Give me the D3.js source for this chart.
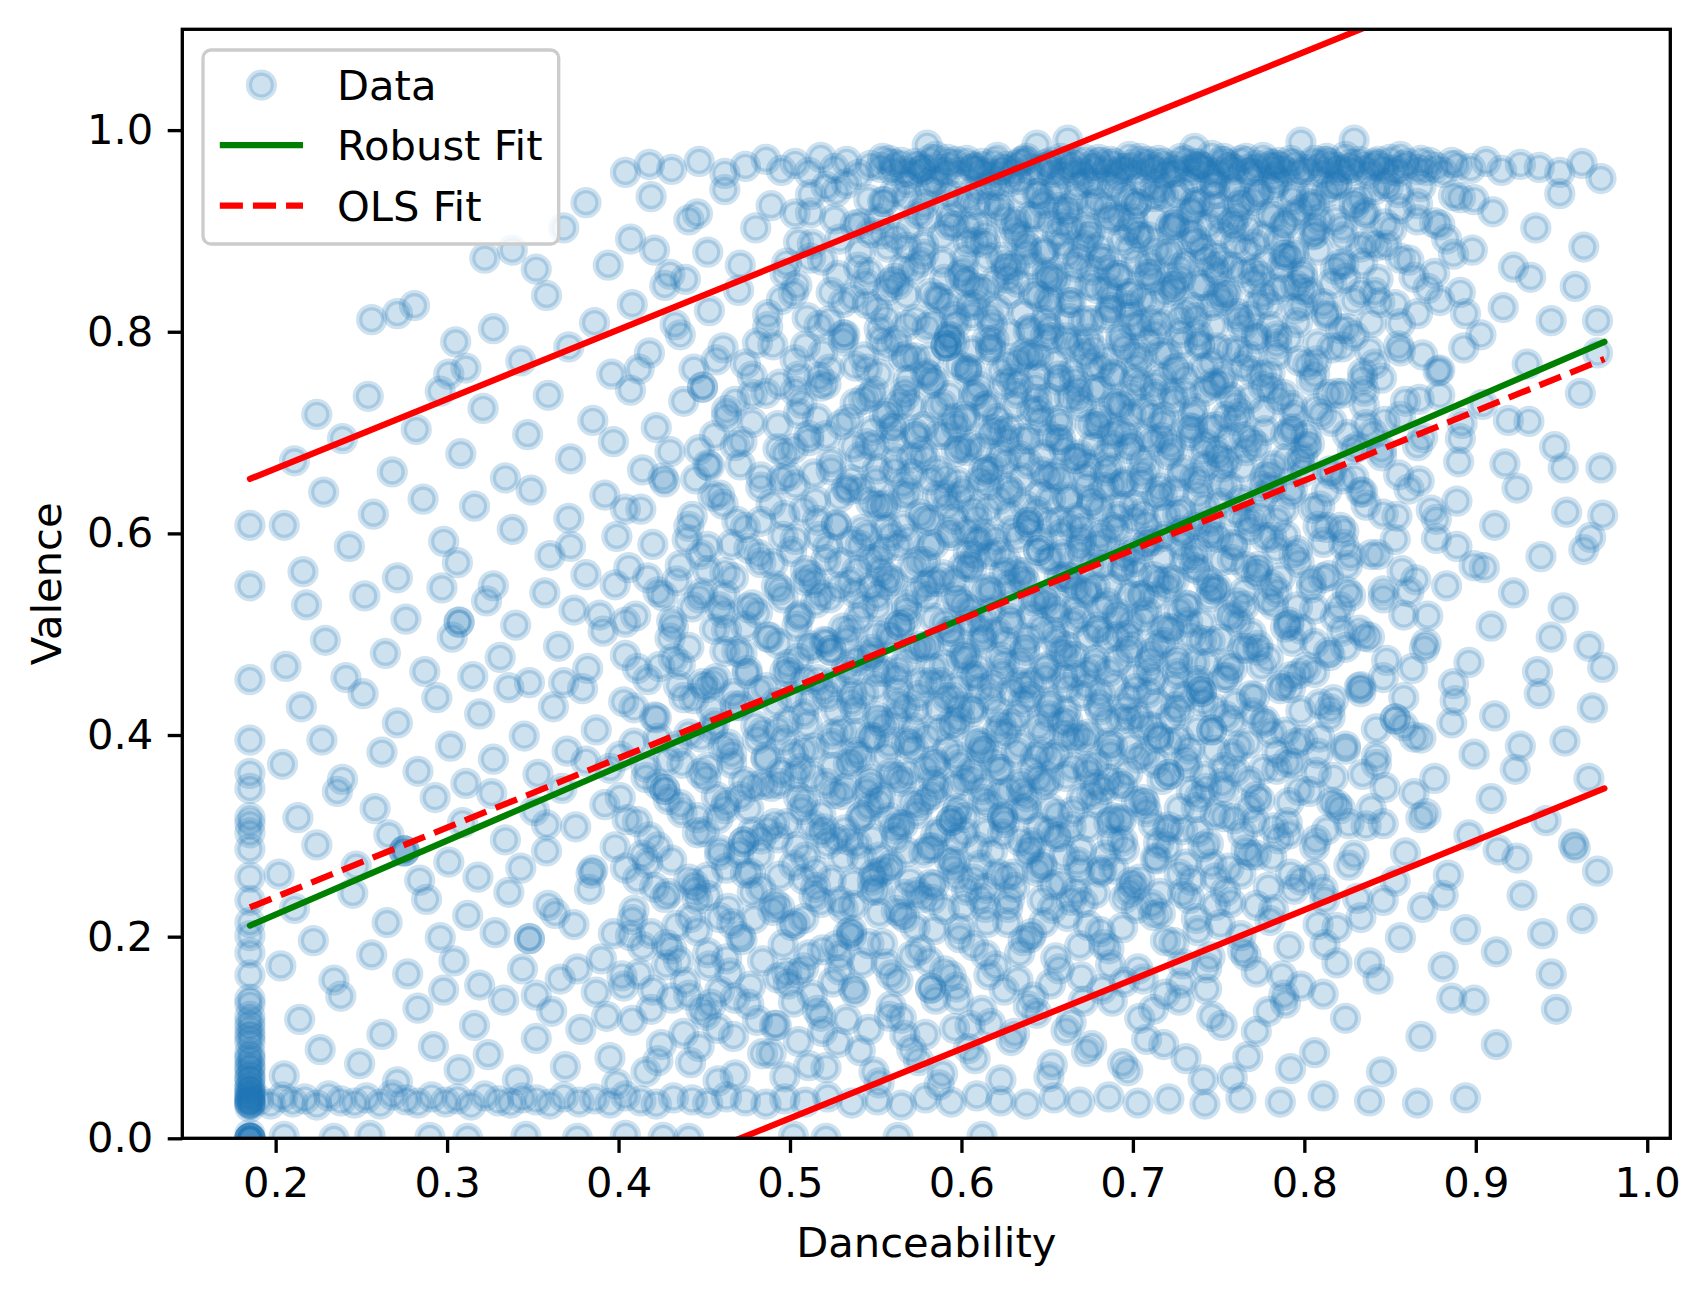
<!DOCTYPE html>
<html>
<head>
<meta charset="utf-8">
<script src="https://cdn.jsdelivr.net/npm/d3@7"></script>
<style>
  body { margin: 0; background: #fff; }
  text { font-family: "DejaVu Sans", sans-serif; }
</style>
</head>
<body>
<div id="chart"></div>
<script>
// Points, [danceability, valence] in thousandths.
// Grouped by region of the cloud.
var minDanceColumn = [
  [185,0],[185,0],[185,0],[185,0],[185,0],[185,0],[185,4],[185,31],[185,34],[185,35],[185,35],[185,36],[185,38],
  [185,40],[185,40],[185,42],[185,45],[185,46],[185,50],[185,50],[185,55],[185,60],[185,60],[185,66],[185,70],
  [185,72],[185,78],[185,80],[185,85],[185,95],[185,100],[185,104],[185,110],[185,115],[185,121],[185,133],
  [185,138],[185,162],[185,184],[185,201],[185,214],[185,236],[185,259],[185,287],[185,303],[185,312],[185,318],
  [185,347],[185,362],[185,395],[185,455],[185,548],[185,608]
];
var zeroValence = [
  [205,2],[234,0],[255,3],[290,1],[312,0],[346,2],[376,0],[404,3],[426,1],[441,0],[502,2],[521,0],[563,1],[612,2]
];
var lowBand = [
  [190,38],[197,34],[204,41],[210,36],[217,39],[224,33],[231,42],[238,37],[246,35],[253,40],[261,34],[268,43],
  [276,38],[283,35],[291,41],[299,36],[306,39],[314,33],[322,42],[330,37],[337,35],[344,40],[352,38],[360,34],
  [368,41],[377,36],[386,39],[395,35],[404,42],[413,37],[422,34],[432,40],[443,38],[452,35],[463,41],[474,37],
  [486,34],[497,39],[509,36],[522,41],[536,35],[551,38],[565,33],[579,40],[594,36],[609,42],[623,37],[638,34],
  [654,40],[669,36],[686,41],[703,35],[721,39],[742,34],[763,40],[786,36],[811,42],[838,37],[866,35],[894,40]
];
var bandA = [
  [205,62],[214,118],[226,88],[238,141],[249,74],[262,103],[271,56],[283,129],[292,91],[298,147],
  [307,68],[316,112],[324,83],[333,137],[341,58],[352,99],[361,126],[369,71],[378,108],[387,145],[395,80],[399,54],
  [408,117],[416,66],[425,93],[431,139],[442,75],[451,122],[458,57],[467,101],[476,133],[484,84],[492,112],[497,61],
  [505,96],[513,142],[521,70],[533,118],[541,87],[552,55],[559,131],[567,102],[575,77],[582,149],[582,149],[589,64],[596,109],
  [604,89],[612,127],[623,58],[631,104],[642,140],[653,73],[664,115],[676,92],[688,136],[697,67],
  [708,98],[719,143],[731,79],[746,121],[758,60],[772,106],[789,134],
  [806,85],[824,119],[845,66],[868,101],[886,139],[912,93],[947,128]
];
var bandB = [
  [203,171],[211,228],[222,196],[234,157],[245,243],[256,182],[265,214],[277,163],[288,237],[296,199],
  [304,176],[312,221],[319,152],[328,204],[336,244],[344,168],[348,198],[348,198],[359,231],[366,158],[374,212],[383,247],[390,178],[397,203],
  [402,161],[409,226],[414,190],[421,249],[428,172],[434,211],[439,155],[446,237],[452,184],[459,219],[465,164],[471,200],
  [478,244],[484,176],[490,226],[496,192],[499,153],
  [503,213],[508,169],[514,240],[519,187],[525,155],[531,228],[536,201],[542,174],[548,246],[554,193],[559,162],[565,222],
  [571,181],[577,239],[584,207],[590,166],[597,150],
  [601,230],[607,191],[614,248],[620,171],[627,214],[633,157],[640,199],[647,236],[655,179],[662,220],[670,160],[678,243],[686,188],[694,209],
  [703,168],[711,232],[719,196],[728,154],[737,218],[745,180],[754,245],[763,201],[772,165],[782,227],[791,190],[798,151],
  [808,212],[819,174],[831,238],[843,158],[856,199],[869,229],[881,170],[894,207],
  [912,185],[927,241],[944,163],[962,218]
];
var bandC = [
  [202,262],[213,318],[224,291],[236,344],[247,270],[258,327],[266,301],[275,285],[275,285],[275,285],[284,256],[293,338],
  [301,274],[309,313],[318,259],[326,342],[334,296],[343,268],[351,325],[358,285],[367,347],[375,309],[384,263],[392,331],[398,289],
  [405,316],[411,257],[418,299],[427,346],[427,346],[431,276],[437,323],[444,252],[450,304],[457,339],[463,268],[473,294],[473,294],
  [476,327],[482,281],[489,349],[494,260],[498,312],
  [504,289],[509,334],[515,265],[520,307],[526,342],[531,279],[537,253],[542,320],[548,297],[553,338],[559,271],[564,311],
  [570,255],[575,330],[581,288],[586,348],[594,315],[594,315],[595,268],
  [602,303],[607,257],[613,336],[618,284],[624,319],[630,262],[635,345],[641,293],[647,272],[652,327],[658,253],[664,309],
  [670,286],[676,341],[682,266],[688,318],[694,295],
  [701,250],[707,332],[714,277],[720,306],[727,262],[734,344],[741,289],[748,321],[756,268],[764,302],[772,339],[781,279],[790,313],[798,256],
  [807,296],[816,333],[826,271],[836,310],[847,348],[859,283],[871,322],[884,261],[896,301],
  [909,337],[924,278],[941,315],[958,288],[971,265]
];
var bandD = [
  [204,371],[215,428],[227,395],[239,356],[251,441],[262,383],[271,412],[283,364],[294,437],
  [302,389],[311,352],[319,421],[327,376],[336,447],[345,399],[353,361],[362,428],[370,384],[379,446],[387,405],[395,367],
  [403,433],[409,392],[416,358],[422,417],[429,375],[435,449],[441,401],[448,362],[454,426],[461,388],[467,441],[473,354],
  [480,409],[486,378],[492,432],[497,395],
  [503,359],[508,421],[514,387],[519,446],[525,368],[530,404],[536,433],[541,378],[547,351],[552,414],[558,391],[563,444],
  [569,362],[574,425],[580,398],[585,371],[591,437],[596,409],
  [602,355],[607,427],[612,384],[618,449],[623,366],[629,411],[634,390],[640,438],[645,357],[651,419],[656,381],[662,447],
  [668,400],[674,363],[680,430],[686,392],[692,352],[698,416],
  [703,377],[709,442],[715,398],[721,361],[727,424],[733,386],[740,443],[740,443],[746,405],[753,368],[760,431],[768,354],
  [776,412],[784,383],[792,447],[799,395],
  [807,363],[815,426],[824,389],[833,448],[842,371],[853,416],[853,416],[864,398],[876,357],[888,434],[899,381],
  [911,419],[923,366],[937,441],[952,394],[966,357],[974,467]
];
var bandE = [
  [206,468],[218,529],[229,494],[241,457],[252,538],[264,481],[276,515],[287,463],[297,546],
  [303,497],[307,512],[307,512],[315,458],[323,533],[331,477],[340,509],[348,452],[357,541],[365,488],[374,524],[382,466],
  [391,503],[398,549],
  [404,479],[410,518],[417,455],[423,542],[430,496],[436,470],[443,527],[449,451],[456,505],[462,539],[469,483],[475,461],
  [481,521],[488,497],[494,544],[499,470],
  [504,508],[509,455],[515,531],[520,493],[524,484],[524,484],[529,547],[535,462],[540,516],[546,479],[551,538],[557,501],
  [562,457],[568,524],[573,486],[579,548],[584,466],[590,511],[595,493],
  [601,529],[606,459],[612,503],[617,541],[623,477],[628,516],[634,452],[639,496],[645,535],[650,468],[656,519],[661,488],
  [667,545],[673,462],[679,507],[685,531],[691,474],[697,499],
  [702,458],[708,522],[714,489],[720,547],[726,471],[732,512],[738,454],[745,537],[751,495],[758,466],[765,528],[773,484],
  [781,549],[789,507],[797,461],
  [806,525],[815,479],[825,542],[835,498],[846,457],[858,519],[870,486],[883,548],[896,472],
  [909,508],[922,541],[936,463],[951,526],[966,488]
];
var bandF = [
  [205,608],[216,562],[228,641],[243,587],[257,619],[271,556],[286,634],[298,592],
  [306,571],[316,627],[327,548],[338,604],[349,643],[360,578],[371,615],[381,559],[392,638],[399,597],
  [406,566],[413,624],[420,589],[427,651],[434,553],[441,607],[448,579],[455,637],[462,561],[469,612],[476,585],[483,646],
  [490,570],[497,618],
  [503,594],[509,553],[515,632],[521,574],[527,609],[533,645],[539,563],[545,598],[551,627],[557,556],[563,588],[569,640],
  [575,572],[581,613],[587,552],[593,601],[599,636],
  [604,567],[610,594],[616,648],[622,581],[628,619],[634,556],[640,603],[646,639],[652,575],[658,612],[664,551],[670,594],
  [676,633],[682,568],[688,606],[694,649],
  [700,583],[706,620],[712,557],[718,597],[724,642],[730,575],[737,609],[744,553],[751,630],[758,589],[765,614],[773,563],
  [781,646],[789,598],[797,571],
  [805,625],[814,558],[823,602],[833,641],[843,579],[854,617],[865,554],[877,595],[889,632],[899,568],
  [911,608],[924,645],[938,577],[953,621],[967,596]
];
var bandG = [
  [211,672],[224,718],[239,694],[254,736],[268,661],[282,703],[296,741],
  [308,679],[321,724],[334,655],[347,698],[359,737],[372,674],[385,712],[397,691],
  [407,742],[414,663],[422,705],[430,681],[438,731],[445,654],[449,745],[449,745],[456,697],[463,722],[471,668],[478,710],
  [486,739],[493,684],[499,657],
  [505,719],[511,692],[518,746],[524,671],[530,708],[536,653],[543,733],[549,687],[555,716],[561,662],[567,741],[573,699],
  [579,674],[585,725],[591,655],[597,706],
  [603,682],[609,738],[615,661],[621,714],[627,692],[633,749],[639,669],[645,721],[651,697],[657,654],[663,735],[669,678],
  [675,708],[681,744],[687,665],[693,726],[699,688],
  [705,651],[711,717],[717,695],[723,739],[729,663],[735,704],[741,681],[748,747],[755,672],[762,719],[769,692],[777,656],
  [785,733],[793,701],[799,676],
  [807,724],[816,659],[825,698],[835,741],[845,683],[856,716],[867,652],[879,737],[891,694],
  [904,728],[917,669],[931,711],[946,686],[961,739],[973,665]
];
var bandH = [
  [256,812],[271,818],[281,826],[301,758],[305,790],[311,764],[327,803],[343,771],[358,836],[371,785],[386,809],[396,758],
  [408,827],[418,779],[427,846],[436,797],[444,763],[453,821],[461,784],[470,841],[478,756],[487,805],[495,832],
  [503,772],[510,814],[517,755],[524,839],[531,791],[538,766],[545,828],[552,803],[559,849],[566,775],[573,812],[580,757],
  [586,834],[591,786],[591,786],[591,786],[597,808],
  [603,761],[609,843],[615,792],[621,822],[627,768],[633,849],[639,801],[645,776],[651,832],[657,752],[663,813],[669,787],
  [675,846],[681,765],[687,821],[693,796],[699,838],
  [705,774],[711,811],[717,753],[723,845],[729,789],[735,824],[741,764],[747,806],[754,839],[761,781],[768,815],[775,757],
  [783,842],[791,794],[799,826],
  [807,771],[816,848],[825,803],[834,759],[844,829],[855,786],[866,818],[878,761],[891,839],
  [903,797],[916,824],[930,768],[944,811],[958,845],[971,779]
];
var bandI = [
  [322,873],[338,881],[352,862],[368,903],[381,928],[394,866],
  [407,892],[419,934],[430,857],[441,911],[452,879],[462,941],[471,866],[480,903],[489,925],[497,858],
  [505,889],[512,936],[519,871],[526,912],[533,947],[540,864],[547,898],[554,929],[561,853],[568,884],[575,917],[582,942],
  [589,869],[596,905],
  [602,851],[608,926],[614,888],[620,945],[626,866],[632,909],[638,878],[644,937],[650,859],[656,897],[662,922],[668,872],
  [674,948],[680,884],[686,913],[692,856],[698,931],
  [704,894],[710,867],[716,940],[722,905],[728,853],[734,921],[740,882],[746,946],[752,869],[758,908],[764,929],[770,861],
  [776,895],[782,943],[788,876],[794,916],[799,854],
  [806,902],[813,938],[821,867],[829,924],[838,889],[847,947],[856,873],[866,911],[876,858],[887,935],[898,881],
  [910,919],[922,864],[935,903],[949,937],[963,884],[973,952]
];
var topBand = [
  [404,958],[418,966],[431,961],[447,969],[462,957],[474,964],[486,971],[495,960],
  [503,967],[511,958],[518,973],[526,962],[533,969],[540,956],[547,965],[554,972],[560,960],[565,968],[571,957],[576,964],
  [582,971],[587,961],[593,966],[598,958],
  [603,970],[607,962],[612,967],[616,957],[621,973],[626,964],[630,959],[635,969],[640,961],[644,985],[649,966],[653,958],
  [658,972],[662,963],[667,968],[671,957],[676,965],[680,971],[685,960],[689,967],[694,962],[698,974],
  [702,958],[706,966],[711,961],[715,970],[719,957],[724,964],[728,972],[733,960],[737,967],[741,963],[746,975],[750,958],
  [755,966],[759,961],[763,970],[768,957],[772,965],[776,973],[781,962],[785,968],[789,959],[794,966],[798,988],
  [802,961],[806,970],[811,958],[815,967],[819,963],[824,974],[828,960],[832,969],[837,957],[841,965],[846,962],[850,971],
  [855,959],[860,967],
  [866,961],[873,968],[881,958],[889,965],[897,962],[906,969],[915,960],[926,966],[937,963],[949,958],[962,967],
  [580,985],[662,990],[736,982],[829,990]
];

// the dense core, filled in row by row (valence 0.10 .. 0.95)
var coreR9 = [
  [503,917],[521,944],[538,906],[546,931],
  [552,912],[561,939],[569,903],[578,926],[586,948],[594,915],
  [604,933],[609,907],[617,946],[622,921],[631,902],[636,938],[643,914],[648,927],
  [651,909],[655,942],[662,918],[667,931],[673,904],[678,947],[684,923],[689,911],[694,936],[698,901],
  [702,927],[707,945],[713,912],[718,934],[724,903],[729,941],[735,919],[739,929],[744,906],[748,937],
  [751,913],[757,944],[762,925],[767,902],[773,936],[779,917],[784,948],[789,908],[793,931],[798,921],
  [804,935],[809,911],[816,944],[822,903],[829,928],[835,916],[841,941],[847,907],
  [856,922],[868,944],[879,906],[891,933]
];
var coreR8 = [
  [504,846],[512,873],[523,811],[529,892],[537,834],[546,859],
  [551,822],[557,884],[563,847],[568,806],[576,869],[582,838],[589,895],[596,815],
  [601,861],[604,826],[609,889],[613,842],[618,807],[623,874],[627,853],[632,896],[636,818],[641,867],[645,835],[649,881],
  [651,803],[655,852],[659,887],[663,829],[667,864],[671,811],[675,898],[679,843],[683,872],[687,824],[691,856],[694,891],
  [697,838],[699,817],
  [702,869],[705,832],[709,894],[712,851],[716,808],[720,877],[724,841],[727,863],[731,819],[735,889],[739,846],[742,872],
  [746,826],[749,858],
  [751,897],[755,836],[758,864],[762,812],[766,881],[770,849],[773,827],[777,868],[781,805],[785,891],[788,845],[792,874],
  [795,823],[799,859],
  [803,839],[808,881],[813,816],[818,862],[823,894],[829,831],[834,868],[839,809],[843,852],[848,886],
  [853,827],[861,871],[872,843],[883,892],[894,818]
];
var coreR7 = [
  [457,772],[468,731],[481,789],[494,748],
  [503,741],[509,786],[516,714],[523,763],[531,797],[538,729],[543,775],[548,702],
  [552,758],[557,719],[562,791],[567,736],[573,774],[578,706],[584,752],[589,728],[593,795],[598,767],
  [602,713],[606,781],[610,746],[615,727],[619,792],[623,761],[628,704],[632,739],[637,778],[641,722],[645,757],[649,796],
  [651,734],[655,769],[658,708],[662,788],[666,751],[670,726],[674,793],[677,742],[681,716],[685,773],[688,758],[692,701],
  [695,784],[699,737],
  [702,765],[706,723],[709,791],[713,747],[717,709],[720,778],[724,731],[728,799],[731,754],[735,717],[739,786],[742,741],
  [746,769],[749,706],
  [752,749],[756,782],[760,712],[764,766],[768,734],[772,797],[776,721],[780,759],[784,788],[788,738],[793,704],[797,771],
  [804,752],[810,718],[816,784],[822,739],[829,796],[835,727],[841,768],[847,711],
  [856,781],[867,733],[879,762],[892,709]
];
var coreR6 = [
  [453,667],[461,629],[472,691],[483,612],[495,654],
  [502,684],[508,623],[514,659],[521,697],[527,608],[534,643],[541,676],[547,631],
  [551,664],[556,606],[561,692],[566,637],[571,675],[576,619],[582,653],[587,698],[592,627],[597,681],
  [601,642],[605,688],[609,615],[613,663],[617,699],[622,634],[626,671],[630,603],[635,655],[639,694],[644,622],[648,678],
  [651,611],[654,659],[658,693],[662,636],[666,674],[670,605],[673,647],[677,688],[681,624],[684,662],[688,699],[691,617],
  [695,651],[698,684],
  [701,628],[705,672],[708,609],[712,691],[716,645],[719,618],[723,683],[727,657],[730,601],[734,697],[738,639],[742,667],
  [745,612],[749,681],
  [752,648],[756,694],[760,621],[764,666],[768,604],[772,687],[776,637],[780,659],[784,613],[789,698],[793,644],[797,672],
  [803,689],[809,627],[815,662],[821,606],[828,683],[834,641],[840,699],[846,619],
  [855,658],[866,687],[877,614],[890,671]
];
var coreR5 = [
  [452,563],[459,527],[466,589],[474,508],[483,571],[496,536],
  [501,582],[506,519],[512,558],[517,597],[523,536],[529,571],[535,504],[541,588],[547,547],
  [551,527],[555,584],[560,553],[564,509],[569,594],[574,541],[579,572],[584,516],[589,559],[594,598],[598,533],
  [601,567],[605,513],[609,592],[613,544],[617,579],[621,502],[625,561],[629,531],[633,596],[637,552],[641,518],[645,583],
  [649,537],
  [651,574],[655,526],[658,599],[662,556],[665,511],[669,587],[673,541],[676,569],[680,503],[684,593],[687,548],[691,521],
  [695,578],[698,539],
  [702,561],[706,514],[709,592],[713,537],[717,576],[721,506],[724,553],[728,589],[732,528],[736,566],[740,511],[744,597],
  [748,544],
  [752,573],[756,519],[760,588],[765,542],[769,501],[773,567],[777,596],[782,529],[786,556],[791,512],[796,583],
  [804,546],[811,591],[818,517],[825,568],[832,504],[839,579],[846,536],
  [857,563],[872,518],[889,587]
];
var coreR4 = [
  [451,447],[456,412],[462,483],[468,429],[475,464],[484,403],[493,491],
  [501,438],[505,476],[510,411],[516,455],[521,492],[527,424],[533,467],[538,402],[543,441],[548,485],
  [551,418],[555,463],[559,496],[563,431],[568,473],[572,407],[577,452],[581,489],[586,426],[590,469],[594,412],[598,447],
  [602,481],[606,423],[609,458],[613,497],[617,436],[621,404],[625,471],[629,444],[633,419],[637,488],[641,452],[645,409],
  [649,466],
  [651,429],[655,493],[659,457],[662,414],[666,478],[670,439],[674,401],[678,468],[681,425],[685,496],[689,449],[693,416],
  [697,483],
  [702,446],[706,408],[710,474],[714,431],[718,492],[722,417],[726,461],[730,438],[734,499],[738,405],[743,471],[747,427],
  [753,457],[758,414],[764,486],[769,439],[775,468],[781,402],[787,449],[793,493],[798,424],
  [806,462],[815,418],[824,487],[833,443],[842,406],[848,474],
  [858,437],[871,491],[886,412]
];
var coreR3 = [
  [452,368],[458,317],[464,391],[471,339],[478,304],[486,376],[494,352],
  [502,381],[507,326],[513,359],[518,303],[524,392],[530,341],[536,374],[541,318],[547,356],[549,397],
  [552,333],[556,379],[561,307],[565,354],[570,394],[574,322],[579,367],[583,341],[588,305],[592,386],[596,349],[599,371],
  [602,318],[606,357],[611,392],[615,331],[619,374],[624,302],[628,345],[632,383],[636,326],[641,366],[645,308],[648,351],
  [652,377],[656,321],[661,359],[665,396],[670,337],[674,309],[679,371],[683,346],[688,389],[693,315],[697,362],
  [702,334],[707,381],[712,311],[717,356],[722,392],[727,327],[732,369],[738,304],[743,347],[748,385],
  [753,319],[760,364],[767,392],[774,336],[782,308],[790,373],[797,345],
  [808,382],[821,327],[834,361],[846,312]
];
var coreR2 = [
  [452,241],[459,286],[466,213],[474,263],[483,297],[494,229],
  [502,271],[508,218],[515,249],[522,292],[529,235],[536,206],[542,278],[548,256],
  [552,223],[557,267],[562,298],[567,242],[573,209],[578,283],[584,251],[590,227],[596,274],
  [603,246],[609,289],[615,214],[621,262],[628,237],[634,295],[641,203],[647,269],
  [653,228],[660,281],[667,245],[674,211],[681,264],[688,296],[695,238],
  [704,257],[712,221],[720,289],[729,243],[738,206],[746,272],
  [757,234],[768,281],[780,216],[792,262],
  [811,247],[833,219]
];
var coreR1 = [
  [454,133],[463,178],[477,151],[491,112],
  [505,164],[516,127],[527,191],[538,145],[546,108],
  [556,173],[565,119],[576,187],[585,138],[594,161],
  [605,112],[614,182],[625,147],[636,196],[644,124],
  [657,168],[671,136],[683,192],[695,155],
  [712,128],[729,173],[743,148],
  [766,181],[788,142]
];
var topBandCore = [
  [553,963],[558,970],[567,959],[573,967],[578,961],[585,974],[591,958],[597,969],[606,964],[611,959],[619,968],[624,961],
  [633,966],[638,972],[646,960],[652,968],[659,957],[664,966],[672,971],[678,962],[687,969],[692,958],[699,966],[704,972],
  [713,963],[718,967],[726,959],[731,970],[739,964],[744,958],[752,969],[757,963],[766,972],[771,960],[779,967],[786,963],
  [792,970],[799,961],[808,965],[813,972],[821,960],[827,966],[835,963],[843,969],[852,960],[858,965],[868,970],[877,963],
  [561,966],[576,959],[592,971],[608,963],[623,957],[637,970],[651,964],[666,958],[681,968],[696,962],[709,969],[723,958],
  [738,966],[753,972],[767,961],[782,966],[797,958],[812,969],[826,962],[841,967],[856,974],[871,960],[886,968]
];
var midLeft = [
  [352,142],[358,311],[363,223],[368,452],[372,587],[376,168],[381,374],[385,266],[389,519],[393,121],
  [401,338],[404,624],[407,201],[411,466],[414,281],[417,556],[420,147],[423,397],[426,655],[429,243],
  [432,507],[435,176],[437,372],[440,594],[442,219],[444,436],[446,318],[447,683],[448,128],[449,541],
  [412,763],[433,807],[421,881],[439,852],[446,917],
  [403,151],[417,273],[428,192],[436,331],[445,247],[458,109],[466,372],[479,218],[487,306],[498,164],
  [409,427],[423,351],[432,476],[448,398],[461,521],[470,283],[482,444],[491,233],[506,367],[518,121],
  [511,489],[527,297],[404,512],[419,203],[441,142],[455,452],[463,333],[476,526],[493,405],[508,257],
  [522,438],[529,181],[514,551],[401,379],[426,538],[452,259],[468,139],[484,351],[497,463],[513,311]
];
var rightEdge = [
  [861,542],[868,318],[874,623],[881,241],[887,451],[893,784],[899,137],[905,566],[913,286],[919,712],
  [926,389],[932,854],[939,203],[944,497],[951,665],[957,292],[963,584],[968,427],[971,811],[974,618]
];
// second pass over the dense middle, valence 0.05 .. 0.50
var fillLow = [
  [423,77],[447,91],[468,63],[489,84],[511,72],[528,95],[549,66],[571,88],[587,53],[608,79],[629,97],[651,61],[673,86],
  [694,74],[718,93],[741,58],[767,81],[792,69],
  [419,128],[438,104],[459,146],[481,117],[502,135],[519,106],[537,149],[558,121],[579,103],[598,138],[617,114],[639,131],
  [661,107],[682,148],[704,119],[727,137],[752,112],[779,126],[811,143],
  [412,163],[431,188],[453,171],[472,197],[493,159],[511,182],[529,167],[546,193],[563,156],[581,176],[599,199],[616,162],
  [634,184],[652,153],[669,191],[687,172],[706,158],[724,194],[743,169],[764,186],[787,161],[812,192],[838,174],
  [408,217],[427,239],[446,206],[464,228],[483,248],[501,211],[518,234],[534,203],[551,246],[567,219],[583,237],[599,208],
  [614,229],[631,249],[648,214],[664,236],[681,205],[698,244],[716,223],[733,238],[751,212],[772,231],[794,247],[819,209],[846,236],
  [404,268],[423,289],[441,257],[459,281],[477,263],[493,298],[509,279],[524,256],[539,292],[553,264],[568,284],[582,252],
  [597,296],[611,271],[626,259],[640,287],[655,299],[669,266],[684,281],[699,254],[715,293],[731,272],[748,258],[766,286],
  [785,297],[806,262],[829,281],[853,255],
  [411,314],[429,336],[446,303],[462,327],[478,349],[491,312],[505,338],[518,321],[532,306],[545,344],[558,318],[571,333],
  [585,301],[598,327],[612,346],[625,313],[638,339],[651,305],[665,324],[678,351],[692,317],[706,336],[721,309],[737,328],
  [753,345],[771,314],[791,333],[813,306],[839,327],[864,342],
  [416,368],[434,389],[451,357],[466,381],[481,396],[495,363],[508,385],[521,352],[534,371],[547,398],[559,362],[572,387],
  [584,354],[597,379],[609,394],[622,366],[635,352],[647,383],[660,399],[673,369],[686,356],[699,388],[713,372],[727,396],
  [742,359],[758,381],[776,366],[795,392],[817,358],[842,379],[868,397],
  [421,418],[438,437],[455,406],[471,429],[486,447],[499,413],[512,434],[525,401],[538,426],[550,448],[562,417],[575,439],
  [587,405],[599,428],[611,446],[623,411],[636,433],[648,402],[661,424],[673,449],[685,414],[698,437],[711,408],[725,428],
  [739,446],[754,419],[771,438],[789,403],[809,431],[832,447],[858,409],
  [424,468],[441,487],[457,456],[472,481],[487,497],[500,462],[513,486],[526,453],[539,474],[551,499],[563,465],[576,488],
  [588,452],[600,477],[612,495],[624,461],[637,484],[649,457],[661,479],[674,498],[686,463],[699,487],[712,455],[726,476],
  [740,494],[756,469],[773,489],[792,458],[814,482],[838,497],[863,466]
];
// second pass, valence 0.50 .. 0.95
var fillHigh = [
  [431,513],[447,536],[463,504],[478,529],[492,548],[505,517],[518,539],[531,506],[543,527],[556,549],[568,514],[580,537],
  [593,503],[605,524],[617,546],[629,511],[642,533],[654,502],[666,525],[678,547],[691,516],[704,538],[717,507],[731,529],
  [746,545],[762,512],[779,534],[798,505],[821,527],[846,543],
  [436,568],[452,587],[467,556],[482,579],[496,597],[509,563],[522,586],[535,552],[547,574],[559,598],[571,566],[584,589],
  [596,553],[608,577],[620,594],[632,562],[645,583],[657,557],[669,579],[681,598],[694,564],[707,588],[721,555],[735,576],
  [750,596],[766,567],[784,585],[804,553],[827,578],[853,594],
  [443,617],[459,638],[474,606],[489,629],[503,648],[516,613],[529,636],[542,604],[554,627],[566,649],[578,615],[591,638],
  [603,602],[615,624],[627,645],[639,611],[652,634],[664,607],[676,629],[688,648],[701,614],[714,637],[728,603],[742,626],
  [757,646],[774,618],[792,639],[813,606],[836,628],[861,644],
  [452,668],[468,687],[483,656],[497,679],[511,697],[524,663],[537,686],[550,652],[562,674],[574,696],[586,662],[599,685],
  [611,653],[623,677],[635,694],[647,661],[660,683],[672,657],[684,678],[696,699],[709,664],[722,688],[736,655],[750,676],
  [765,696],[782,667],[801,686],[822,654],[845,677],[869,695],
  [463,716],[478,738],[493,707],[507,729],[521,748],[534,713],[547,736],[559,704],[571,727],[583,749],[595,714],[607,737],
  [619,703],[631,726],[643,745],[656,712],[668,734],[680,706],[692,728],[705,747],[718,715],[731,739],[745,705],[760,727],
  [776,746],[794,717],[814,738],[836,708],[859,731],
  [474,768],[490,787],[505,756],[519,779],[532,797],[545,763],[557,786],[569,752],[581,774],[593,796],[605,762],[617,785],
  [629,753],[641,777],[653,794],[665,761],[677,783],[689,757],[701,778],[713,798],[726,764],[739,788],[753,755],[768,776],
  [784,796],[802,767],[822,785],[845,754],[869,777],
  [487,817],[502,838],[517,806],[531,829],[544,848],[556,813],[568,836],[580,804],[592,827],[604,849],[616,815],[628,838],
  [640,803],[652,826],[664,845],[676,811],[688,834],[700,807],[712,829],[724,848],[737,814],[750,837],[764,805],[779,827],
  [795,846],[813,818],[833,839],[856,808],[879,831],
  [498,868],[513,887],[528,856],[541,879],[554,897],[566,863],[578,886],[590,852],[602,874],[614,896],[626,862],[638,885],
  [650,853],[662,877],[674,894],[686,861],[698,883],[710,857],[722,878],[734,899],[747,864],[760,888],[774,855],[789,876],
  [805,896],[823,867],[842,885],[864,854],[887,877],
  [512,918],[527,939],[541,907],[555,929],[568,948],[580,913],[592,936],[604,904],[616,927],[628,949],[640,914],[652,937],
  [664,903],[676,926],[688,945],[700,912],[712,934],[724,906],[736,928],[748,947],[761,915],[774,939],[788,905],[803,927],
  [819,946],[836,918],[855,938],[876,908],[899,931]
];
// third pass over the darkest part, valence 0.22 .. 0.95
var fillDense = [
  [537,231],[549,262],[574,244],[562,226],[598,259],[611,238],[627,229],[644,265],[653,251],[671,234],[689,267],[702,228],
  [716,243],[734,256],[748,231],[763,262],[779,249],[812,237],
  [534,296],[552,279],[566,311],[583,288],[593,276],[615,304],[624,318],[639,283],[657,299],[668,274],[686,313],[695,287],
  [713,278],[729,306],[744,292],[759,317],[772,281],[791,302],[806,289],[826,312],
  [532,347],[546,329],[563,358],[579,336],[597,322],[606,364],[622,341],[638,327],[651,355],[665,368],[679,333],[694,349],
  [708,324],[721,361],[739,339],[752,352],[768,328],[784,366],[803,344],[819,331],
  [539,383],[555,409],[568,392],[584,374],[599,416],[613,387],[626,401],[643,378],[659,412],[672,395],[687,381],[703,418],
  [715,397],[731,376],[746,405],[762,389],[777,414],[793,372],[809,398],[824,386],
  [536,441],[551,463],[567,428],[582,452],[595,437],[609,468],[621,423],[637,447],[652,432],[666,459],[681,441],[696,426],
  [709,464],[724,448],[741,433],[755,457],[770,422],[786,446],[801,467],[817,435],
  [533,494],[548,478],[564,509],[579,487],[594,503],[603,476],[612,514],[626,492],[634,471],[647,506],[658,483],[669,517],
  [678,474],[691,498],[699,512],[711,481],[723,505],[736,472],[745,493],[758,517],[767,486],[779,476],[791,509],[806,491],[822,503],
  [538,541],[553,563],[568,529],[583,552],[597,537],[606,566],[617,524],[628,548],[636,561],[649,531],[661,557],[673,543],
  [682,526],[694,568],[706,539],[715,552],[727,523],[738,564],[749,546],[761,531],[772,559],[784,542],[796,527],[811,556],[827,538],
  [536,592],[551,576],[566,607],[581,588],[596,614],[604,581],[614,599],[626,573],[639,611],[647,594],[659,579],[668,616],
  [679,587],[691,604],[701,572],[712,593],[726,618],[737,583],[746,601],[758,574],[769,612],[781,596],[794,578],[808,607],[823,589],
  [541,644],[556,628],[571,659],[586,637],[598,651],[607,623],[618,664],[629,641],[637,628],[651,656],[662,634],[674,668],
  [683,646],[694,627],[705,659],[717,638],[728,622],[739,651],[752,666],[763,633],[775,647],[788,624],[799,661],[813,642],[829,655],
  [545,689],[561,707],[577,681],[591,698],[602,716],[611,684],[623,701],[634,677],[646,712],[656,693],[667,674],[679,709],
  [688,687],[699,718],[708,696],[721,678],[733,705],[742,689],[754,716],[766,682],[777,702],[789,674],[801,697],[816,711],[831,686],
  [549,741],[564,728],[579,759],[593,737],[603,764],[614,726],[625,748],[633,771],[644,733],[657,756],[668,742],[676,767],
  [689,729],[701,752],[713,738],[724,763],[736,724],[747,749],[757,735],[769,761],[781,744],[793,727],[806,758],[819,739],[834,753],
  [553,792],[568,776],[583,808],[596,789],[606,816],[617,782],[628,798],[639,775],[649,811],[661,794],[672,778],[684,814],
  [693,791],[704,806],[716,779],[727,813],[738,797],[749,784],[761,818],[772,793],[784,777],[796,809],[808,788],[821,803],[838,781],
  [557,841],[572,862],[587,833],[599,856],[608,827],[619,849],[631,866],[642,838],[653,854],[664,829],[676,861],[685,843],
  [697,826],[708,857],[719,839],[731,868],[741,846],[752,831],[764,859],[776,837],[787,864],[799,842],[811,828],[824,853],[841,839],
  [562,893],[578,877],[593,906],[604,889],[615,874],[626,912],[636,894],[648,879],[659,907],[671,886],[681,873],[692,915],
  [703,898],[714,881],[726,909],[737,891],[748,876],[759,904],[771,887],[782,914],[794,879],[806,897],[818,911],[833,884],[851,902],
  [568,934],[583,949],[598,929],[611,942],[622,926],[634,951],[645,937],[657,923],[668,946],[679,931],[691,952],[702,927],
  [713,943],[725,935],[736,950],[747,924],[759,941],[770,930],[782,953],[794,938],[806,926],[819,947],[833,932],[849,944],[866,927]
];

// Fitted lines, [danceability, valence] at both ends of the data range
var robustFit = [[0.185, 0.211], [0.975, 0.790]];
var olsFit = [[0.185, 0.229], [0.975, 0.773]];
var upperBound = [[0.185, 0.654], [0.975, 1.198]];
var lowerBound = [[0.185, -0.197], [0.975, 0.347]];

var xTicks = [0.2, 0.3, 0.4, 0.5, 0.6, 0.7, 0.8, 0.9, 1.0];
var yTicks = [0.0, 0.2, 0.4, 0.6, 0.8, 1.0];
var yLimits = [0, 1.1];
var legendLabels = ["Data", "Robust Fit", "OLS Fit"];

// matplotlib at 300 dpi: 1pt = 300/72 px
var pt = 300 / 72;
var fontSize = 10 * pt;

var width = 1708, height = 1294;
var plot = { left: 182.3, right: 1670.3, top: 29.3, bottom: 1138.3 };

var points = [].concat(minDanceColumn, zeroValence, lowBand, bandA, bandB, bandC, bandD,
    bandE, bandF, bandG, bandH, bandI, topBand,
    coreR1, coreR2, coreR3, coreR4, coreR5, coreR6, coreR7, coreR8, coreR9,
    topBandCore, midLeft, rightEdge, fillLow, fillHigh, fillDense)
  .map(function(p) { return { x: p[0] / 1000, y: p[1] / 1000 }; });

// x limits like matplotlib's default 5% margin
var xExt = d3.extent(points, function(d) { return d.x; });
var xPad = (xExt[1] - xExt[0]) * 0.05;

var x = d3.scaleLinear().domain([xExt[0] - xPad, xExt[1] + xPad]).range([plot.left, plot.right]);
var y = d3.scaleLinear().domain(yLimits).range([plot.bottom, plot.top]);

var svg = d3.select("#chart").append("svg")
  .attr("width", width)
  .attr("height", height)
  .style("display", "block");

svg.append("rect").attr("width", width).attr("height", height).attr("fill", "#fff");

svg.append("clipPath").attr("id", "plotClip")
  .append("rect")
  .attr("x", plot.left).attr("y", plot.top)
  .attr("width", plot.right - plot.left)
  .attr("height", plot.bottom - plot.top);

var inner = svg.append("g").attr("clip-path", "url(#plotClip)");

var dotColor = "#1f77b4";
var dotAlpha = 0.22;
var dotRadius = 3 * pt;      // s=36 -> 6pt wide
var dotEdge = 1.5 * pt;

inner.append("g").selectAll("circle")
  .data(points)
  .join("circle")
  .attr("cx", function(d) { return x(d.x); })
  .attr("cy", function(d) { return y(d.y); })
  .attr("r", dotRadius)
  .attr("fill", dotColor)
  .attr("fill-opacity", dotAlpha)
  .attr("stroke", dotColor)
  .attr("stroke-opacity", dotAlpha)
  .attr("stroke-width", dotEdge);

var line = d3.line()
  .x(function(d) { return x(d[0]); })
  .y(function(d) { return y(d[1]); });

inner.append("path").datum(robustFit)
  .attr("d", line).attr("fill", "none")
  .attr("stroke", "green").attr("stroke-width", 1.5 * pt).attr("stroke-linecap", "round");

inner.append("path").datum(olsFit)
  .attr("d", line).attr("fill", "none")
  .attr("stroke", "red").attr("stroke-width", 1.5 * pt)
  .attr("stroke-dasharray", (5.55 * pt) + "," + (2.4 * pt));

[upperBound, lowerBound].forEach(function(b) {
  inner.append("path").datum(b)
    .attr("d", line).attr("fill", "none")
    .attr("stroke", "red").attr("stroke-width", 1.5 * pt).attr("stroke-linecap", "round");
});

// axes
var tickLen = 3.5 * pt;
var xAxis = svg.append("g")
  .attr("transform", "translate(0," + plot.bottom + ")")
  .call(d3.axisBottom(x).tickValues(xTicks).tickFormat(d3.format(".1f"))
    .tickSize(tickLen).tickPadding(tickLen));
var yAxis = svg.append("g")
  .attr("transform", "translate(" + plot.left + ",0)")
  .call(d3.axisLeft(y).tickValues(yTicks).tickFormat(d3.format(".1f"))
    .tickSize(tickLen).tickPadding(tickLen));

[xAxis, yAxis].forEach(function(g) {
  g.attr("font-size", fontSize).attr("font-family", "DejaVu Sans");
  g.select(".domain").remove();
  g.selectAll(".tick line").attr("stroke", "#000").attr("stroke-width", 0.8 * pt);
  g.selectAll(".tick text").attr("fill", "#000");
});

svg.append("rect")
  .attr("x", plot.left).attr("y", plot.top)
  .attr("width", plot.right - plot.left)
  .attr("height", plot.bottom - plot.top)
  .attr("fill", "none")
  .attr("stroke", "#000")
  .attr("stroke-width", 0.8 * pt);

svg.append("text")
  .attr("x", (plot.left + plot.right) / 2)
  .attr("y", 1257)
  .attr("text-anchor", "middle")
  .attr("font-size", fontSize)
  .text("Danceability");

svg.append("text")
  .attr("transform", "translate(60.6," + (plot.top + plot.bottom) / 2 + ") rotate(-90)")
  .attr("text-anchor", "middle")
  .attr("font-size", fontSize)
  .text("Valence");

// legend
var legend = svg.append("g");
legend.append("rect")
  .attr("x", 203).attr("y", 50)
  .attr("width", 355.7).attr("height", 194)
  .attr("rx", 8).attr("ry", 8)
  .attr("fill", "#fff").attr("fill-opacity", 0.8)
  .attr("stroke", "#cccccc").attr("stroke-width", 0.8 * pt);

var rowY = [85, 145, 205.5];
var handleX = [219.8, 303];

legend.append("circle")
  .attr("cx", (handleX[0] + handleX[1]) / 2).attr("cy", rowY[0])
  .attr("r", dotRadius)
  .attr("fill", dotColor).attr("fill-opacity", dotAlpha)
  .attr("stroke", dotColor).attr("stroke-opacity", dotAlpha)
  .attr("stroke-width", dotEdge);

legend.append("line")
  .attr("x1", handleX[0]).attr("x2", handleX[1])
  .attr("y1", rowY[1]).attr("y2", rowY[1])
  .attr("stroke", "green").attr("stroke-width", 1.5 * pt);

legend.append("line")
  .attr("x1", handleX[0]).attr("x2", handleX[1])
  .attr("y1", rowY[2]).attr("y2", rowY[2])
  .attr("stroke", "red").attr("stroke-width", 1.5 * pt)
  .attr("stroke-dasharray", (5.55 * pt) + "," + (2.4 * pt));

legend.selectAll("text.label")
  .data(legendLabels)
  .join("text")
  .attr("class", "label")
  .attr("x", 337)
  .attr("y", function(d, i) { return rowY[i] + 15; })
  .attr("font-size", fontSize)
  .text(function(d) { return d; });
</script>
</body>
</html>
